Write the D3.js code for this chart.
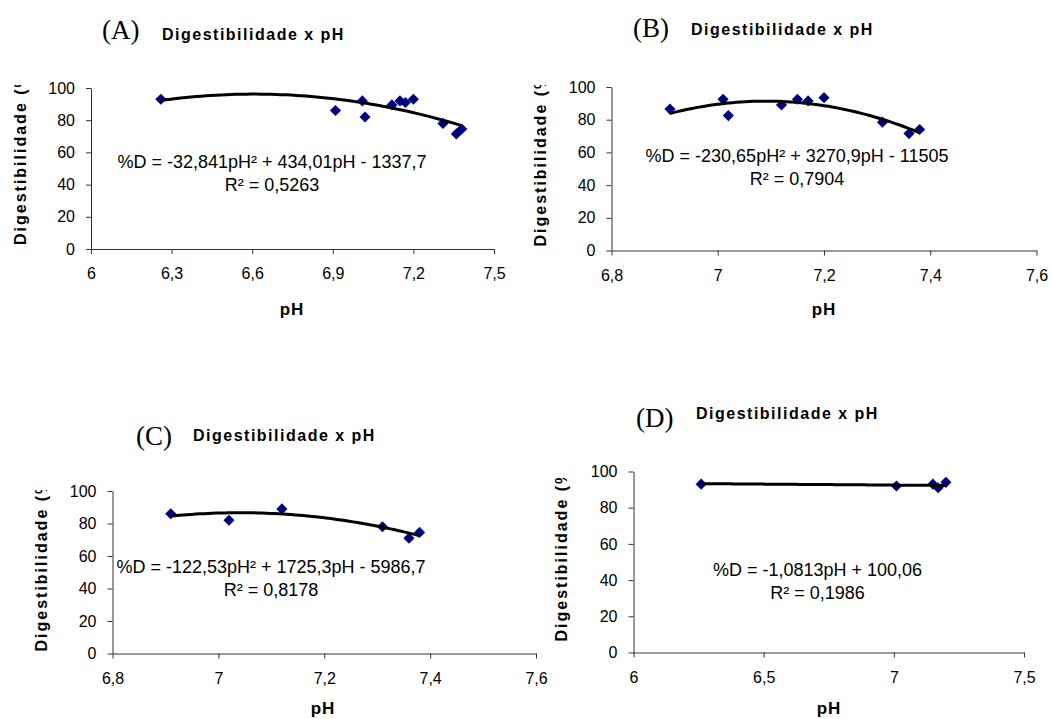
<!DOCTYPE html>
<html>
<head>
<meta charset="utf-8">
<script src="https://cdn.jsdelivr.net/npm/d3@7"></script>
<style>
  body { margin: 0; background: #fff; }
  svg { display: block; }
</style>
</head>
<body>
<svg id="chart" width="1052" height="719"></svg>
<script>
// values (pH vs digestibilidade %)
const phA = [6.26, 6.91, 7.01, 7.02, 7.12, 7.15, 7.17, 7.20, 7.31, 7.36, 7.38];
const digA = [93, 86, 92, 82, 89.5, 92, 91, 93, 78, 71.5, 74.5];
const phB = [6.91, 7.01, 7.02, 7.12, 7.15, 7.17, 7.20, 7.31, 7.36, 7.38];
const digB = [86.5, 92.5, 82.5, 89, 92.5, 91.5, 93.5, 78.5, 71.5, 74];
const phC = [6.91, 7.02, 7.12, 7.31, 7.36, 7.38];
const digC = [86, 82, 89, 78, 71, 74.5];
const phD = [6.26, 7.01, 7.15, 7.17, 7.20];
const digD = [93, 92, 93, 91, 94];

// trendline coefficients as printed on each chart (a*pH^2 + b*pH + c)
const fitA = [-32.841, 434.01, -1337.7];
const fitB = [-230.65, 3270.9, -11505];
const fitC = [-122.53, 1725.3, -5986.7];
const fitD = [0, -1.0813, 100.06];

const eqA = ["%D = -32,841pH² + 434,01pH - 1337,7", "R² = 0,5263"];
const eqB = ["%D = -230,65pH² + 3270,9pH - 11505", "R² = 0,7904"];
const eqC = ["%D = -122,53pH² + 1725,3pH - 5986,7", "R² = 0,8178"];
const eqD = ["%D = -1,0813pH + 100,06", "R² = 0,1986"];

const ticksA = [6, 6.3, 6.6, 6.9, 7.2, 7.5];
const ticksB = [6.8, 7, 7.2, 7.4, 7.6];
const ticksC = [6.8, 7, 7.2, 7.4, 7.6];
const ticksD = [6, 6.5, 7, 7.5];
const yTicks = [0, 20, 40, 60, 80, 100];

const letters = ["(A)", "(B)", "(C)", "(D)"];
const titleText = "Digestibilidade x pH";
const yLabelText = "Digestibilidade (%)";
const xLabelText = "pH";

const sans = "Arial, 'Liberation Sans', sans-serif";
const serif = "'Times New Roman', 'Liberation Serif', serif";

// where each little chart sits on the page
// clipY = where the y label gets chopped off (excel cut it short)
const panels = [
  { ph: phA, dig: digA, fit: fitA, eq: eqA, ticks: ticksA, letter: letters[0],
    left: 91, right: 494, top: 88, bottom: 249,
    letterX: 102, letterY: 39, titleX: 162, titleY: 40,
    yLabX: 20, yLabY: 245, clipY: 85, xLabX: 292, xLabY: 315, eqX: 272, eqY: 168 },
  { ph: phB, dig: digB, fit: fitB, eq: eqB, ticks: ticksB, letter: letters[1],
    left: 611.5, right: 1036.5, top: 87, bottom: 250.5,
    letterX: 633, letterY: 37, titleX: 691, titleY: 35,
    yLabX: 540, yLabY: 246.5, clipY: 85, xLabX: 824, xLabY: 315, eqX: 797, eqY: 162 },
  { ph: phC, dig: digC, fit: fitC, eq: eqC, ticks: ticksC, letter: letters[2],
    left: 112.5, right: 536, top: 491, bottom: 653.5,
    letterX: 136, letterY: 445, titleX: 193, titleY: 441,
    yLabX: 41, yLabY: 651.5, clipY: 490, xLabX: 323, xLabY: 714, eqX: 271, eqY: 573 },
  { ph: phD, dig: digD, fit: fitD, eq: eqD, ticks: ticksD, letter: letters[3],
    left: 633.5, right: 1024, top: 471.5, bottom: 652.5,
    letterX: 636, letterY: 427, titleX: 696, titleY: 419,
    yLabX: 561, yLabY: 641.5, clipY: 478, xLabX: 829, xLabY: 714, eqX: 817.5, eqY: 576 }
];

const svg = d3.select("#chart");
const comma = v => String(v).replace(".", ",");

panels.forEach(function(p, i) {
  const x = d3.scaleLinear()
    .domain([p.ticks[0], p.ticks[p.ticks.length - 1]])
    .range([p.left, p.right]);
  const y = d3.scaleLinear().domain([0, 100]).range([p.bottom, p.top]);

  const g = svg.append("g");

  // panel letter + title
  g.append("text")
    .attr("x", p.letterX).attr("y", p.letterY)
    .style("font-family", serif).style("font-size", "27px")
    .text(p.letter);
  g.append("text")
    .attr("x", p.titleX).attr("y", p.titleY)
    .style("font-family", sans).style("font-size", "16px")
    .style("font-weight", "bold").style("letter-spacing", "1.5px")
    .text(titleText);

  // axes
  const yAxis = d3.axisLeft(y).tickValues(yTicks)
    .tickSize(5).tickSizeOuter(0).tickPadding(11);
  const xAxis = d3.axisBottom(x).tickValues(p.ticks).tickFormat(comma)
    .tickSize(5).tickSizeOuter(0).tickPadding(14);

  g.append("g").attr("transform", "translate(" + p.left + ",0)").call(yAxis);
  g.append("g").attr("transform", "translate(0," + p.bottom + ")").call(xAxis);
  g.selectAll(".domain, .tick line").attr("stroke", "#333");
  g.selectAll(".tick text")
    .attr("fill", "#000")
    .style("font-family", sans).style("font-size", "16px");

  // y label, clipped on a plain group so the rect stays in page coords
  const clipId = "clip" + i;
  svg.append("clipPath").attr("id", clipId)
    .append("rect")
    .attr("x", p.yLabX - 20).attr("y", p.clipY)
    .attr("width", 40).attr("height", 400);
  g.append("g")
    .attr("clip-path", "url(#" + clipId + ")")
    .append("text")
    .attr("transform", "translate(" + (p.yLabX + 6) + "," + p.yLabY + ") rotate(-90)")
    .style("font-family", sans).style("font-size", "16px")
    .style("font-weight", "bold").style("letter-spacing", "2px")
    .text(yLabelText);

  g.append("text")
    .attr("x", p.xLabX).attr("y", p.xLabY)
    .attr("text-anchor", "middle")
    .style("font-family", sans).style("font-size", "17px")
    .style("font-weight", "bold").style("letter-spacing", "1px")
    .text(xLabelText);

  // data points, navy diamonds
  const pts = p.ph.map((v, k) => ({ ph: v, dig: p.dig[k] }));
  g.selectAll("path.pt")
    .data(pts)
    .enter()
    .append("path")
    .attr("class", "pt")
    .attr("d", d3.symbol(d3.symbolSquare, 62))
    .attr("transform", d => "translate(" + x(d.ph) + "," + y(d.dig) + ") rotate(45)")
    .attr("fill", "#000080");

  // trendline from the printed equation, over the data range
  const lo = d3.min(p.ph), hi = d3.max(p.ph);
  const fx = v => p.fit[0] * v * v + p.fit[1] * v + p.fit[2];
  const steps = d3.range(0, 61).map(k => lo + (hi - lo) * k / 60);
  g.append("path")
    .datum(steps)
    .attr("fill", "none")
    .attr("stroke", "#000")
    .attr("stroke-width", 3)
    .attr("d", d3.line().x(d => x(d)).y(d => y(fx(d))));

  // equation + r squared
  g.selectAll("text.eq")
    .data(p.eq)
    .enter()
    .append("text")
    .attr("class", "eq")
    .attr("x", p.eqX)
    .attr("y", (d, k) => p.eqY + k * 23)
    .attr("text-anchor", "middle")
    .style("font-family", sans).style("font-size", "18px")
    .text(d => d);
});
</script>
</body>
</html>
